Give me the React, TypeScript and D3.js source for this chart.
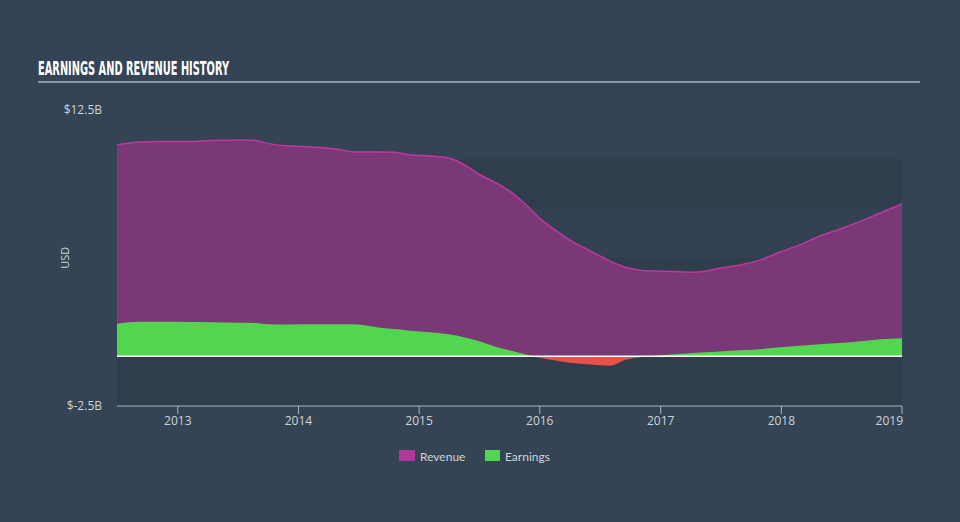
import React from "react";
import * as d3 from "d3";

const dates: string[] = [
  "2012-07-01", "2012-09-09", "2012-11-10", "2013-02-06", "2013-04-08", "2013-07-08",
  "2013-08-22", "2013-10-08", "2013-11-22", "2014-01-08", "2014-03-08", "2014-04-23",
  "2014-06-21", "2014-09-06", "2014-10-19", "2014-12-05", "2015-02-03", "2015-04-06",
  "2015-05-19", "2015-07-05", "2015-08-18", "2015-10-01", "2015-11-18", "2016-01-01",
  "2016-02-17", "2016-04-01", "2016-06-03", "2016-08-01", "2016-09-17", "2016-11-01",
  "2016-12-28", "2017-03-29", "2017-05-16", "2017-06-28", "2017-08-29", "2017-10-27",
  "2017-12-28", "2018-02-24", "2018-04-27", "2018-06-28", "2018-08-29", "2018-10-27",
  "2019-01-01",
];

// billions USD
const revenue: number[] = [
  10.73, 10.88, 10.9, 10.9, 10.95, 10.98,
  10.95, 10.78, 10.68, 10.65, 10.6, 10.52,
  10.37, 10.37, 10.35, 10.22, 10.17, 10.04,
  9.71, 9.2, 8.84, 8.39, 7.73, 7.0,
  6.4, 5.9, 5.34, 4.83, 4.52, 4.37,
  4.32, 4.27, 4.32, 4.47, 4.63, 4.88,
  5.29, 5.64, 6.1, 6.46, 6.86, 7.27,
  7.73,
];

const earnings: number[] = [
  1.65, 1.75, 1.75, 1.74, 1.73, 1.7,
  1.69, 1.62, 1.61, 1.63, 1.63, 1.63,
  1.62, 1.45, 1.38, 1.3, 1.22, 1.1,
  0.95, 0.75, 0.5, 0.3, 0.1, -0.08,
  -0.22, -0.33, -0.42, -0.48, -0.18, -0.05,
  0.05, 0.15, 0.2, 0.24, 0.3, 0.36,
  0.46, 0.53, 0.61, 0.67, 0.76, 0.86,
  0.92,
];

const yTickValues: number[] = [12.5, -2.5];
const yTickLabels: string[] = ["$12.5B", "$-2.5B"];
const bandEdges: number[] = [-2.5, 0, 2.5, 5, 7.5, 10];
const legendLabels: string[] = ["Revenue", "Earnings"];

const W = 960;
const H = 522;
const PAGE_BG = "#344454";
const PLOT_BG = "#2f3d4c";
const PLOT_BG2 = "#334253";
const REV_FILL = "#7a3876";
const REV_LINE = "#c0389f";
const EARN_FILL = "#52d64f";
const LOSS_FILL = "#e8504a";
const TEXT = "#cdd3da";

export default function App() {
  const parse = d3.timeParse("%Y-%m-%d");
  const data = dates.map((d, i) => ({ date: parse(d) as Date, rev: revenue[i], earn: earnings[i] }));

  const x = d3
    .scaleTime()
    .domain([parse("2012-07-01") as Date, parse("2019-01-01") as Date])
    .range([117, 902]);
  const y = d3.scaleLinear().domain([-2.5, 12.5]).range([405.5, 110]);

  const revArea = d3
    .area<any>()
    .x((d) => x(d.date))
    .y0(y(0))
    .y1((d) => y(d.rev))
    .curve(d3.curveMonotoneX);
  const revLine = d3
    .line<any>()
    .x((d) => x(d.date))
    .y((d) => y(d.rev))
    .curve(d3.curveMonotoneX);
  const earnArea = d3
    .area<any>()
    .x((d) => x(d.date))
    .y0(y(0))
    .y1((d) => y(d.earn))
    .curve(d3.curveMonotoneX);

  const [x0, x1] = x.range();
  const yTop = y(10);
  const yBottom = 406;
  const years = x.ticks(d3.timeYear.every(1)).filter((d) => d.getFullYear() >= 2013);

  const bands = bandEdges.slice(0, -1).map((lo, i) => ({
    lo,
    hi: bandEdges[i + 1],
    fill: i % 2 === 0 ? PLOT_BG : PLOT_BG2,
  }));
  // top band drawn explicitly
  const topBandFill = PLOT_BG;

  return (
    <svg
      width={W}
      height={H}
      style={{ position: "absolute", left: 0, top: 0, background: PAGE_BG, display: "block" }}
    >
      <rect x={0} y={0} width={W} height={H} fill={PAGE_BG} />
      <defs>
        <clipPath id="above">
          <rect x={x0} y={0} width={x1 - x0} height={y(0)} />
        </clipPath>
        <clipPath id="below">
          <rect x={x0} y={y(0)} width={x1 - x0} height={H - y(0)} />
        </clipPath>
      </defs>

      {/* Title */}
      <text
        x={38}
        y={75}
        fill="#ffffff"
        fontFamily="'Liberation Sans Narrow', 'DejaVu Sans Condensed', sans-serif"
        fontWeight="bold"
        fontSize={19}
        textLength={191}
        lengthAdjust="spacingAndGlyphs"
      >
        EARNINGS AND REVENUE HISTORY
      </text>
      <line x1={38} x2={920} y1={82} y2={82} stroke="#a9b3bd" strokeWidth={1.5} />

      {/* Plot background bands */}
      <rect x={x0} y={yTop} width={x1 - x0} height={y(7.5) - yTop} fill={topBandFill} />
      {bands
        .filter((b) => b.hi <= 7.5)
        .map((b, i) => (
          <rect
            key={i}
            x={x0}
            y={y(b.hi)}
            width={x1 - x0}
            height={(b.lo === -2.5 ? yBottom : y(b.lo)) - y(b.hi)}
            fill={b.hi === 7.5 ? PLOT_BG2 : PLOT_BG}
          />
        ))}

      {/* Revenue */}
      <path d={revArea(data) || ""} fill={REV_FILL} />
      <path d={revLine(data) || ""} fill="none" stroke={REV_LINE} strokeWidth={1.5} />

      {/* Earnings */}
      <path d={earnArea(data) || ""} fill={EARN_FILL} clipPath="url(#above)" />
      <path d={earnArea(data) || ""} fill={LOSS_FILL} clipPath="url(#below)" />

      {/* Zero line */}
      <line x1={x0} x2={x1} y1={y(0)} y2={y(0)} stroke="#ffffff" strokeWidth={1.5} />

      {/* X axis */}
      <line x1={x0} x2={x1} y1={yBottom} y2={yBottom} stroke="#a9b6c3" strokeWidth={1} />
      {years.map((d, i) => {
        const xi = x(d);
        const last = i === years.length - 1;
        return (
          <g key={i}>
            <line x1={xi} x2={xi} y1={yBottom} y2={yBottom + 8} stroke="#a9b6c3" strokeWidth={1} />
            <text
              x={last ? xi + 1 : xi}
              y={425}
              fill={TEXT}
              fontFamily="'Open Sans', sans-serif"
              fontSize={12}
              textAnchor={last ? "end" : "middle"}
            >
              {d3.timeFormat("%Y")(d)}
            </text>
          </g>
        );
      })}

      {/* Y labels */}
      {yTickValues.map((v, i) => (
        <text
          key={i}
          x={102}
          y={y(v) + 4}
          fill={TEXT}
          fontFamily="'Open Sans', sans-serif"
          fontSize={12}
          textAnchor="end"
        >
          {yTickLabels[i]}
        </text>
      ))}
      <text
        transform={`translate(69, ${y(5)}) rotate(-90)`}
        fill={TEXT}
        fontFamily="'Open Sans', sans-serif"
        fontSize={11}
        textAnchor="middle"
      >
        USD
      </text>

      {/* Legend */}
      <rect x={399} y={450} width={16} height={11} fill="#b0379b" />
      <text x={420} y={461} fill={TEXT} fontFamily="'Lato', sans-serif" fontSize={12}>
        {legendLabels[0]}
      </text>
      <rect x={485} y={450} width={15} height={11} fill={EARN_FILL} />
      <text x={505} y={461} fill={TEXT} fontFamily="'Lato', sans-serif" fontSize={12}>
        {legendLabels[1]}
      </text>
    </svg>
  );
}
